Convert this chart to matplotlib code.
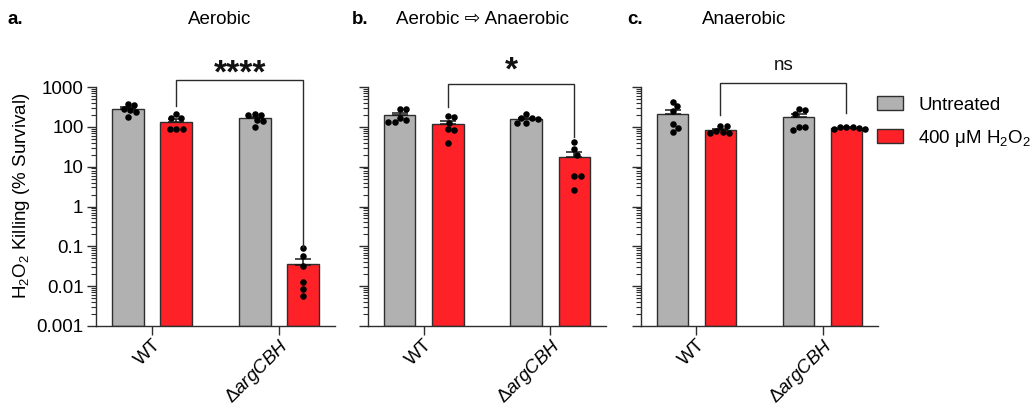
import numpy as np
import matplotlib
matplotlib.use('Agg')
import matplotlib.pyplot as plt
from matplotlib.patches import Patch
from matplotlib.ticker import FixedLocator, FixedFormatter, LogLocator, NullFormatter

plt.rcParams['font.family'] = ['Liberation Sans', 'DejaVu Sans']
plt.rcParams['mathtext.fontset'] = 'custom'
plt.rcParams['mathtext.rm'] = 'Liberation Sans'
plt.rcParams['mathtext.it'] = 'Liberation Sans:italic'
plt.rcParams['mathtext.bf'] = 'Liberation Sans:bold'

# ---------------- data ----------------
panel_letters = ['a.', 'b.', 'c.']
panel_titles = ['Aerobic', 'Aerobic \u21e8 Anaerobic', 'Anaerobic']
strains = ['WT', '\u0394$\\it{argCBH}$']
conditions = ['Untreated', '400 \u03bcM H$_2$O$_2$']
significance = ['****', '*', 'ns']
ytick_values = [0.001, 0.01, 0.1, 1, 10, 100, 1000]
ytick_labels = ['0.001', '0.01', '0.1', '1', '10', '100', '1000']

# % survival replicates
aerobic_wt_untreated = [378, 357, 283, 267, 238, 178]
aerobic_wt_h2o2 = [208, 168, 168, 89, 89, 89]
aerobic_arg_untreated = [205, 195, 200, 145, 140, 100]
aerobic_arg_h2o2 = [0.0895, 0.0574, 0.0327, 0.0125, 0.0084, 0.0057]

shift_wt_untreated = [283, 283, 171, 150, 136, 136]
shift_wt_h2o2 = [182, 175, 128, 87, 84, 40]
shift_arg_untreated = [208, 171, 165, 156, 124, 124]
shift_arg_h2o2 = [41, 27.5, 19.8, 5.9, 5.9, 2.6]

anaerobic_wt_untreated = [417, 324, 243, 119, 93, 74]
anaerobic_wt_h2o2 = [106, 102, 79, 76, 72, 69.5]
anaerobic_arg_untreated = [278, 267, 208, 100, 98, 84]
anaerobic_arg_h2o2 = [100, 97, 97, 96, 88, 86]

panels = [
    [aerobic_wt_untreated, aerobic_wt_h2o2, aerobic_arg_untreated, aerobic_arg_h2o2],
    [shift_wt_untreated, shift_wt_h2o2, shift_arg_untreated, shift_arg_h2o2],
    [anaerobic_wt_untreated, anaerobic_wt_h2o2, anaerobic_arg_untreated, anaerobic_arg_h2o2],
]

# ---------------- style / layout ----------------
W, H = 1033, 409
GRAY = '#B1B1B1'
RED = '#FE2228'
EDGE = '#2e2e2e'
colors = [GRAY, RED]
FS = 13.5

ax_px = [(96, 335), (368, 606), (641, 878)]
ax_top, ax_bot = 87, 326
group_x = [0.0, 1.0]
bar_off = [-0.19, 0.19]
bar_w = 0.25
xlim = (-0.44, 1.44)

brackets = [(1517, 340, 0.098), (1203, 316, 56), (1277, 200, 224)]
sig_y_px = [74, 71, 66]
sig_size = [24, 24, FS]
sig_weight = ['bold', 'bold', 'normal']
title_x_px = [220, 483, 744]
letter_x_px = [8, 352, 627]
title_y_px = 20

fig = plt.figure(figsize=(W / 100, H / 100), dpi=100)


def fx(px):
    return px / W


def fy(py):
    return 1 - py / H


def swarm(ax, xc, vals, d=6.2):
    x0 = ax.transData.transform((xc, 1.0))[0]
    ys = [ax.transData.transform((xc, v))[1] for v in vals]
    order = np.argsort(ys)[::-1]
    placed = []
    xs = [0.0] * len(vals)
    for k in order:
        y = ys[k]
        chosen = 0.0
        for step in range(0, 400):
            cands = [0.0] if step == 0 else [step * 0.5, -step * 0.5]
            found = None
            for off in cands:
                if all((off - px) ** 2 + (y - py) ** 2 >= d * d for px, py in placed):
                    found = off
                    break
            if found is not None:
                chosen = found
                break
        placed.append((chosen, y))
        xs[k] = ax.transData.inverted().transform((x0 + chosen, y))[0]
    return xs


axes = []
for i, (l, r) in enumerate(ax_px):
    ax = fig.add_axes([fx(l), fy(ax_bot), (r - l) / W, (ax_bot - ax_top) / H])
    axes.append(ax)
    ax.set_yscale('log')
    ax.set_ylim(ytick_values[0], ytick_values[-1])
    ax.set_xlim(*xlim)
    for s in ['top', 'right']:
        ax.spines[s].set_visible(False)
    for s in ['left', 'bottom']:
        ax.spines[s].set_color(EDGE)
        ax.spines[s].set_linewidth(1.0)

    data = panels[i]
    for g in range(2):
        for c in range(2):
            vals = np.array(data[g * 2 + c], dtype=float)
            xc = group_x[g] + bar_off[c]
            m = vals.mean()
            sem = vals.std(ddof=1) / np.sqrt(len(vals))
            ax.bar(xc, m, width=bar_w, bottom=ytick_values[0] * 0.999, color=colors[c],
                   edgecolor=EDGE, linewidth=1.0, zorder=2)
            ax.errorbar([xc], [m], yerr=[[0], [sem]], fmt='none', ecolor='#1a1a1a',
                        elinewidth=1.1, capsize=5.5, capthick=1.1, zorder=3)
            xs = swarm(ax, xc, vals)
            ax.scatter(xs, vals, s=22, color='black', zorder=4, linewidths=0)

    ax.yaxis.set_major_locator(FixedLocator(ytick_values))
    ax.yaxis.set_minor_locator(LogLocator(base=10, subs=np.arange(2, 10), numticks=20))
    ax.yaxis.set_minor_formatter(NullFormatter())
    if i == 0:
        ax.yaxis.set_major_formatter(FixedFormatter(ytick_labels))
    else:
        ax.yaxis.set_major_formatter(NullFormatter())
    ax.tick_params(axis='y', which='major', length=6.5, width=1.0, color=EDGE,
                   labelsize=FS, pad=2.5)
    ax.tick_params(axis='y', which='minor', length=3.5, width=0.8, color=EDGE)
    ax.set_xticks(group_x)
    ax.set_xticklabels(strains, rotation=45, ha='right', rotation_mode='anchor', fontsize=FS)
    ax.tick_params(axis='x', length=6.5, width=1.0, color=EDGE, pad=0.5)

    by, yl, yr = brackets[i]
    xl = group_x[0] + bar_off[1]
    xr = group_x[1] + bar_off[1]
    ax.plot([xl, xl, xr, xr], [yl, by, by, yr], color='#2a2a2a', lw=1.0,
            clip_on=False, zorder=5, solid_joinstyle='miter')
    xmid_px = (ax.transData.transform((xl, 1.0))[0] + ax.transData.transform((xr, 1.0))[0]) / 2
    fig.text(fx(xmid_px), fy(sig_y_px[i]), significance[i], ha='center', va='center',
             fontsize=sig_size[i], fontweight=sig_weight[i], color='#111111')

    fig.text(fx(letter_x_px[i]), fy(title_y_px), panel_letters[i], ha='left', va='center',
             fontsize=FS, fontweight='bold')
    fig.text(fx(title_x_px[i]), fy(title_y_px), panel_titles[i], ha='center', va='center',
             fontsize=FS)

fig.text(fx(22), fy(196), 'H$_2$O$_2$ Killing (% Survival)', rotation=90,
         ha='center', va='center', fontsize=FS)

handles = [Patch(facecolor=colors[c], edgecolor=EDGE, linewidth=1.0) for c in range(2)]
fig.legend(handles, conditions, loc='upper left', bbox_to_anchor=(fx(877), fy(96)),
           frameon=False, fontsize=FS, handlelength=1.4, handleheight=0.8,
           handletextpad=0.8, labelspacing=0.75, borderpad=0, borderaxespad=0)

fig.savefig('out.png', dpi=100)
